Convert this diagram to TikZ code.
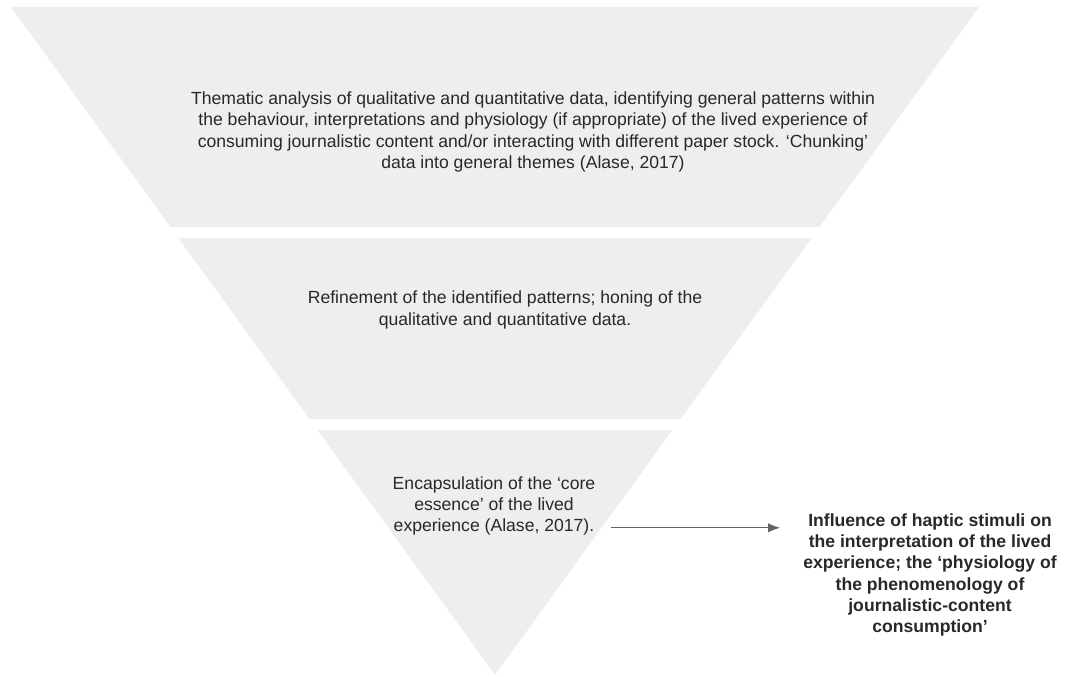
\documentclass[tikz,border=0pt]{standalone}
\usepackage{fontspec}
\setmainfont{Liberation Sans}
\usepackage{tikz}
\usetikzlibrary{positioning, arrows.meta, calc}
\definecolor{FunnelFill}{RGB}{238,238,238}
\definecolor{FunnelText}{RGB}{40,40,40}
\definecolor{FunnelArrow}{RGB}{100,100,100}

\begin{document}
\begin{tikzpicture}[
      x=0.75pt, y=-0.75pt,
      band/.style={fill=FunnelFill, draw=none},
      stage/.style={align=center, inner sep=0pt, text=FunnelText,
                    font=\fontsize{13.2}{16}\selectfont},
      outcome/.style={stage, font=\fontsize{13.2}{16}\selectfont\bfseries},
      arrowline/.style={draw=FunnelArrow, line width=0.8pt,
                        -{Latex[length=9pt, width=7pt]}}
    ]
    \useasboundingbox (0,0) rectangle (1065,677);

    % Band 1 -- thematic analysis
    \fill[band] (11,7) -- (979,7) -- (819.6,227) -- (170.4,227) -- cycle;
    \node[stage] (thematic) at (533,132)
          {Thematic analysis of qualitative and quantitative data, identifying general patterns within\\
           the behaviour, interpretations and physiology (if appropriate) of the lived experience of\\
           consuming journalistic content and/or interacting with different paper stock. `Chunking'\\
           data into general themes (Alase, 2017)};

    % Band 2 -- refinement
    \fill[band] (178.4,238) -- (811.6,238) -- (680.5,419) -- (309.5,419) -- cycle;
    \node[stage] (refine) at (505,310)
          {Refinement of the identified patterns; honing of the\\
           qualitative and quantitative data.};

    % Band 3 -- encapsulation
    \fill[band] (317.5,430) -- (672.5,430) -- (495,675) -- cycle;
    \node[stage] (encaps) at (494,506)
          {Encapsulation of the `core\\
           essence' of the lived\\
           experience (Alase, 2017).};

    % Outcome
    \node[outcome] (influence) at (930,575)
          {Influence of haptic stimuli on\\
           the interpretation of the lived\\
           experience; the `physiology of\\
           the phenomenology of\\
           journalistic-content\\
           consumption'};

    \draw[arrowline] ([shift={(15,-8)}]encaps.south east)
          -- ([shift={(-23,-8)}]encaps.south east -| influence.west);
\end{tikzpicture}
\end{document}
